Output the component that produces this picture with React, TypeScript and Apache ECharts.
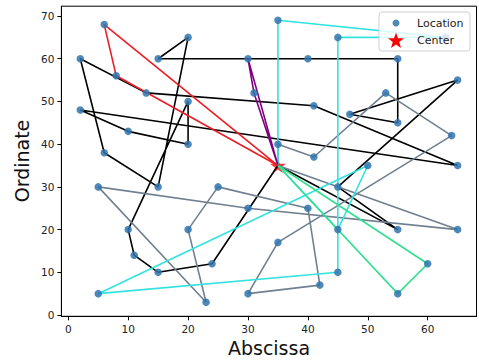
import React, { useEffect, useRef } from "react";
import * as echarts from "echarts";

// Customer locations (index 1..50); index 0 is the depot / center
const locX = [41, 35, 55, 55, 15, 25, 20, 10, 55, 30, 20, 50, 30, 15, 30, 10, 5, 20, 15, 45,
  45, 45, 55, 65, 65, 45, 35, 41, 64, 40, 31, 35, 53, 65, 63, 2, 20, 5, 60, 40,
  42, 24, 23, 11, 6, 2, 8, 13, 6, 47];
const locY = [49, 17, 45, 20, 30, 30, 50, 43, 60, 60, 65, 35, 25, 10, 5, 20, 30, 40, 60, 65,
  20, 10, 5, 35, 20, 30, 40, 37, 42, 60, 52, 69, 52, 55, 65, 60, 20, 5, 12, 25,
  7, 12, 3, 14, 38, 48, 56, 52, 68, 47];
const centerX = 35;
const centerY = 35;

// Routes as sequences of location indices (0 = center)
const routeRed = [0, 47, 49, 0];
const routePurple = [0, 31, 10, 0];
const routeGreen = [0, 23, 39, 0];
const routeCyan = [0, 32, 35, 20, 22, 38, 12, 21, 0];
const routeBlack = [0, 4, 26, 34, 50, 3, 9, 30, 19, 11, 5, 45, 36, 48, 1, 24, 46, 8, 18, 7, 16, 44, 14, 42, 0];
const routeGray = [0, 25, 13, 17, 43, 37, 6, 40, 41, 15, 2, 29, 33, 28, 27, 0];

const routeList = [routeBlack, routeGray, routeCyan, routeGreen, routePurple, routeRed];
const routeColors = ["#000000", "#708090", "#33e3e0", "#30e090", "#800080", "#ee1c24"];

const xTicks = [0, 10, 20, 30, 40, 50, 60];
const yTicks = [0, 10, 20, 30, 40, 50, 60, 70];

const FONT = "DejaVu Sans";
const POINT_COLOR = "#2f74ad";
const STAR_PATH = "path://M50,0 L61,35 L98,35 L68,57 L79,91 L50,70 L21,91 L32,57 L2,35 L39,35 Z";

function pt(i: number): number[] {
  return i === 0 ? [centerX, centerY] : [locX[i - 1], locY[i - 1]];
}

function starPoints(cx: number, cy: number, R: number): number[][] {
  const r = R * 0.4;
  const pts: number[][] = [];
  for (let k = 0; k < 10; k++) {
    const a = -Math.PI / 2 + (k * Math.PI) / 5;
    const rr = k % 2 === 0 ? R : r;
    pts.push([cx + rr * Math.cos(a), cy + rr * Math.sin(a)]);
  }
  return pts;
}

export default function App() {
  const ref = useRef<HTMLDivElement>(null);
  useEffect(() => {
    if (!ref.current) return;
    const chart = echarts.init(ref.current, undefined, { renderer: "svg" });
    const series: any[] = [];
    series.push({
      name: "Center",
      type: "scatter",
      data: [[centerX, centerY]],
      symbol: STAR_PATH,
      symbolSize: 16,
      symbolKeepAspect: true,
      itemStyle: { color: "#ff0000" },
      z: 1,
      silent: true,
    });
    routeList.forEach((r, k) => {
      series.push({
        type: "line",
        data: r.map(pt),
        showSymbol: false,
        symbol: "none",
        lineStyle: { color: routeColors[k], width: 1.6 },
        z: 2,
        silent: true,
      });
    });
    series.push({
      name: "Location",
      type: "scatter",
      data: locX.map((x, i) => [x, locY[i]]),
      symbolSize: 7.5,
      itemStyle: { color: POINT_COLOR, opacity: 0.85 },
      z: 3,
      silent: true,
    });

    const axisCommon = {
      type: "value" as const,
      splitLine: { show: false },
      axisLine: { show: true, onZero: false, lineStyle: { color: "#000", width: 1 } },
    };

    chart.setOption({
      animation: false,
      grid: {
        left: 61.4,
        right: 2.5,
        top: 6.2,
        bottom: 46.7,
        show: true,
        borderColor: "#000",
        borderWidth: 1,
        backgroundColor: "#fff",
      },
      xAxis: {
        ...axisCommon,
        min: -1.15,
        max: 68.15,
        axisTick: { show: true, customValues: xTicks, length: 4, lineStyle: { color: "#000" } },
        axisLabel: { customValues: xTicks, fontSize: 10.5, color: "#222", margin: 7, fontFamily: FONT },
      },
      yAxis: {
        ...axisCommon,
        min: -0.3,
        max: 72.3,
        axisTick: { show: true, customValues: yTicks, length: 4, lineStyle: { color: "#000" } },
        axisLabel: { customValues: yTicks, fontSize: 10.5, color: "#222", margin: 7, fontFamily: FONT },
      },
      series,
      graphic: [
        {
          type: "text",
          x: 269,
          y: 348,
          z: 100,
          style: { text: "Abscissa", fontSize: 19, fontFamily: FONT, fill: "#111", align: "center", verticalAlign: "middle" },
        },
        {
          type: "text",
          x: 22,
          y: 161,
          rotation: Math.PI / 2,
          z: 100,
          style: { text: "Ordinate", fontSize: 19, fontFamily: FONT, fill: "#111", align: "center", verticalAlign: "middle" },
        },
        {
          type: "rect",
          z: 100,
          shape: { x: 379, y: 12, width: 91, height: 39, r: 3 },
          style: { fill: "rgba(255,255,255,0.8)", stroke: "#d0d0d0", lineWidth: 1 },
        },
        {
          type: "circle",
          z: 101,
          shape: { cx: 396, cy: 23, r: 3.5 },
          style: { fill: POINT_COLOR, opacity: 0.85 },
        },
        {
          type: "polygon",
          z: 101,
          shape: { points: starPoints(396, 41, 8.5) },
          style: { fill: "#ff0000" },
        },
        {
          type: "text",
          x: 417,
          y: 23,
          z: 101,
          style: { text: "Location", fontSize: 11, fontFamily: FONT, fill: "#222", verticalAlign: "middle" },
        },
        {
          type: "text",
          x: 417,
          y: 40,
          z: 101,
          style: { text: "Center", fontSize: 11, fontFamily: FONT, fill: "#222", verticalAlign: "middle" },
        },
      ],
    });
    return () => chart.dispose();
  }, []);
  return (
    <div
      ref={ref}
      style={{ position: "fixed", left: 0, top: 0, width: 479, height: 363, background: "#fff" }}
    />
  );
}
